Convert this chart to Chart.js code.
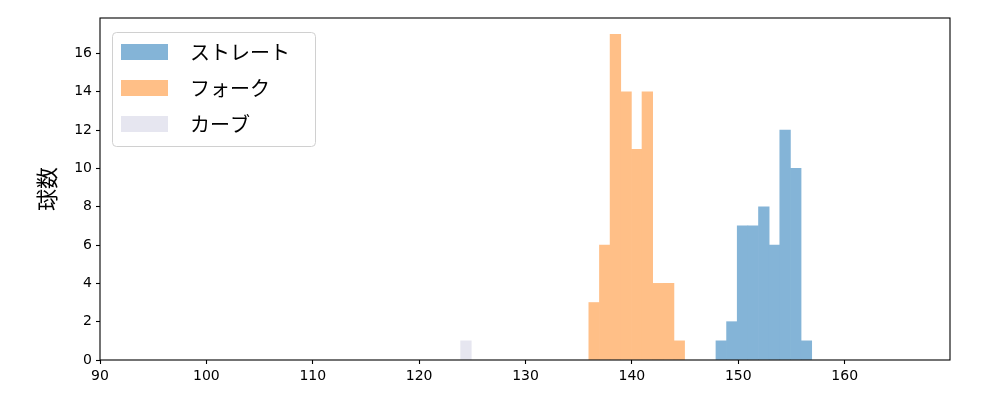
<!DOCTYPE html>
<html>
<head>
<meta charset="utf-8">
<script src="https://cdn.jsdelivr.net/npm/chart.js@4/dist/chart.umd.min.js"></script>
<style>
  html, body { margin: 0; padding: 0; background: #fff; }
  #wrap { width: 1000px; height: 400px; }
</style>
</head>
<body>
<div id="wrap"><canvas id="histChart" width="1000" height="400"></canvas></div>
<script>
// ビンの中心 (km/h) と球数
var straightBins = [148.4, 149.4, 150.4, 151.4, 152.4, 153.4, 154.4, 155.4, 156.4];
var straightCounts = [1, 2, 7, 7, 8, 6, 12, 10, 1];
var forkBins = [136.45, 137.45, 138.45, 139.45, 140.45, 141.45, 142.45, 143.45, 144.45];
var forkCounts = [3, 6, 17, 14, 11, 14, 4, 4, 1];
var curveBins = [124.4];
var curveCounts = [1];
var seriesLabels = ['ストレート', 'フォーク', 'カーブ'];
var seriesColors = ['#84b4d7', '#ffbf87', '#e6e6f0'];
var xTicks = [90, 100, 110, 120, 130, 140, 150, 160];
var yTicks = [0, 2, 4, 6, 8, 10, 12, 14, 16];
var yTitle = '球数';

function toPoints(xs, ys) {
    return xs.map(function(x, i) { return { x: x, y: ys[i] }; });
}
function fixedTicks(list) {
    return function(scale) {
        scale.ticks = list.map(function(v) { return { value: v }; });
    };
}

var jpFont = '"Noto Sans CJK JP", "Noto Sans", sans-serif';
var tickFont = { family: '"DejaVu Sans", sans-serif', size: 14 };

// 枠線 + 凡例 + 縦軸タイトル（matplotlib 風に描画）
var framePlugin = {
    id: 'frame',
    afterDraw: function(chart) {
        var a = chart.chartArea;
        var ctx = chart.ctx;
        ctx.save();
        ctx.strokeStyle = '#000';
        ctx.lineWidth = 1.1;
        ctx.strokeRect(a.left, a.top, a.right - a.left, a.bottom - a.top);

        // 凡例
        var bx = a.left + 12, by = a.top + 14, bw = 203, bh = 114;
        ctx.beginPath();
        if (ctx.roundRect) ctx.roundRect(bx + 0.5, by + 0.5, bw, bh, 4);
        else ctx.rect(bx + 0.5, by + 0.5, bw, bh);
        ctx.fillStyle = 'rgba(255,255,255,0.8)';
        ctx.fill();
        ctx.strokeStyle = '#d0d0d0';
        ctx.lineWidth = 1;
        ctx.stroke();

        ctx.font = '20px ' + jpFont;
        ctx.textBaseline = 'middle';
        chart.data.datasets.forEach(function(ds, i) {
            var cy = by + 20 + i * 36;
            ctx.fillStyle = ds.backgroundColor;
            ctx.fillRect(bx + 9, cy - 8, 47, 16);
            ctx.fillStyle = '#000';
            ctx.fillText(ds.label, bx + 78, cy);
        });

        // 縦軸タイトル
        ctx.font = '22px ' + jpFont;
        ctx.textAlign = 'center';
        ctx.translate(47, (a.top + a.bottom) / 2);
        ctx.rotate(-Math.PI / 2);
        ctx.fillText(yTitle, 0, 0);
        ctx.restore();
    }
};

var ctx = document.getElementById('histChart').getContext('2d');
var chart = new Chart(ctx, {
    type: 'bar',
    data: {
        datasets: [
            { label: seriesLabels[0], data: toPoints(straightBins, straightCounts), backgroundColor: seriesColors[0] },
            { label: seriesLabels[1], data: toPoints(forkBins, forkCounts), backgroundColor: seriesColors[1] },
            { label: seriesLabels[2], data: toPoints(curveBins, curveCounts), backgroundColor: seriesColors[2] }
        ]
    },
    options: {
        responsive: false,
        animation: false,
        layout: { padding: { top: 18, right: 50, left: 0, bottom: 0 } },
        datasets: {
            bar: { grouped: false, barPercentage: 1, categoryPercentage: 1, borderWidth: 0 }
        },
        plugins: {
            legend: { display: false },
            tooltip: { enabled: false }
        },
        scales: {
            x: {
                type: 'linear',
                min: 90,
                max: 169.9,
                offset: false,
                border: { display: false },
                grid: { offset: false, drawOnChartArea: false, tickLength: 4, color: '#000', tickWidth: 1.1 },
                ticks: { color: '#000', font: tickFont, padding: 4, maxRotation: 0, autoSkip: false },
                afterBuildTicks: fixedTicks(xTicks),
                afterFit: function(s) { s.height = 40; }
            },
            y: {
                min: 0,
                max: 17.85,
                border: { display: false },
                grid: { drawOnChartArea: false, tickLength: 4, color: '#000', tickWidth: 1.1 },
                ticks: { color: '#000', font: tickFont, padding: 4, autoSkip: false },
                afterBuildTicks: fixedTicks(yTicks),
                afterFit: function(s) { s.width = 100; }
            }
        }
    },
    plugins: [framePlugin]
});
</script>
</body>
</html>
